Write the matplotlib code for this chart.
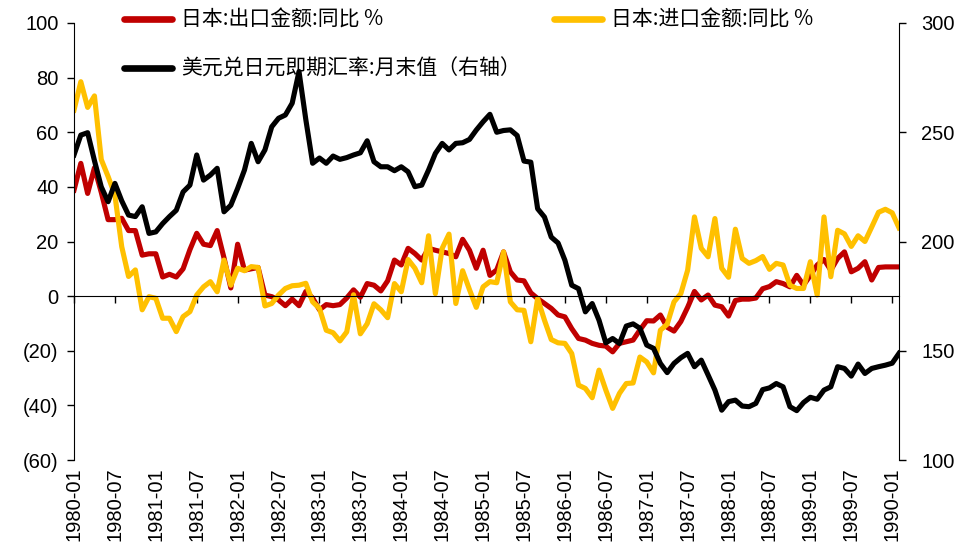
import numpy as np
import matplotlib
matplotlib.use("Agg")
import matplotlib.pyplot as plt
from matplotlib.lines import Line2D
from matplotlib.ticker import FuncFormatter

# 1980-01 ... 1990-02, monthly
tick_labels = [f"{y}-{m:02d}" for y in range(1980, 1991) for m in (1, 7)][:21]

# 日本:出口金额:同比 %
exports_yoy = [
    38.8, 48.6, 37.6, 47.0, 38.0, 28.0, 28.0, 28.5, 24.0, 24.0, 15.0, 15.5,
    15.5, 7.0, 8.0, 7.0, 10.0, 17.0, 23.0, 19.0, 18.5, 24.0, 14.0, 3.0,
    19.0, 9.5, 10.0, 10.5, 0.4, -0.2, -1.4, -3.5, -1.1, -3.5, 1.7, -0.7,
    -5.0, -3.1, -3.5, -3.1, -0.7, 2.3, -0.4, 4.6, 4.0, 1.9, 5.6, 13.2,
    11.4, 17.5, 15.6, 13.2, 17.5, 16.8, 16.2, 15.6, 14.4, 20.8, 16.8, 10.2,
    16.8, 7.6, 9.6, 16.2, 8.9, 5.9, 5.6, 1.2, -0.9, -2.7, -4.5, -6.9,
    -7.6, -11.9, -15.5, -16.1, -17.3, -18.0, -18.3, -20.4, -17.3, -16.7, -16.1, -12.4,
    -9.0, -9.1, -6.9, -11.4, -12.8, -9.3, -4.1, 1.7, -1.4, 0.4, -3.3, -3.9,
    -7.3, -1.6, -1.1, -1.1, -0.7, 2.7, 3.5, 5.3, 4.6, 3.4, 7.6, 4.0,
    7.6, 11.4, 13.4, 9.5, 13.8, 16.2, 8.9, 10.2, 12.6, 5.9, 10.5, 10.7,
    10.7, 10.7,
]

# 日本:进口金额:同比 %
imports_yoy = [
    68.1, 78.5, 69.1, 73.3, 50.0, 43.8, 37.0, 18.1, 7.2, 9.6, -5.0, -0.2,
    -0.8, -8.1, -8.1, -13.0, -7.5, -5.7, 0.4, 3.4, 5.3, 1.6, 13.2, 4.0,
    10.2, 9.3, 10.8, 10.5, -3.6, -2.7, 0.4, 2.8, 3.8, 4.0, 4.7, -2.1,
    -4.5, -12.5, -13.4, -16.4, -13.1, 0.5, -13.8, -10.1, -2.8, -5.0, -7.9, 4.6,
    1.6, 13.4, 10.2, 4.9, 22.1, 0.9, 17.5, 22.7, -2.7, 9.3, 2.4, -4.1,
    3.4, 5.3, 4.9, 16.2, -2.1, -5.0, -5.2, -16.7, -0.9, -8.8, -15.9, -17.1,
    -17.3, -21.0, -32.6, -33.8, -37.2, -27.1, -34.4, -41.1, -35.6, -32.0, -31.8, -22.3,
    -24.1, -28.1, -12.5, -10.3, -2.1, 0.9, 9.5, 29.0, 17.5, 14.4, 28.4, 10.2,
    6.9, 24.5, 13.8, 12.0, 13.0, 14.5, 9.8, 12.0, 11.4, 4.0, 2.8, 2.8,
    12.6, 0.4, 29.0, 7.1, 24.1, 22.8, 18.2, 22.1, 20.0, 25.3, 30.7, 31.8,
    30.5, 25.0,
]

# 美元兑日元即期汇率:月末值 (右轴)
usdjpy = [
    239.6, 248.7, 249.8, 237.0, 225.0, 218.2, 226.6, 218.6, 212.1, 211.4, 215.9, 203.7,
    204.4, 208.2, 211.4, 214.3, 222.7, 225.8, 239.6, 228.1, 230.4, 233.5, 213.6, 216.6,
    224.3, 232.7, 244.9, 236.5, 241.9, 252.5, 256.4, 257.9, 263.3, 277.8, 255.8, 235.8,
    238.2, 235.8, 239.1, 237.6, 238.4, 239.6, 240.6, 246.1, 236.5, 234.2, 234.2, 232.4,
    234.2, 231.9, 225.1, 225.8, 232.7, 240.3, 244.9, 241.9, 244.9, 245.2, 246.7, 251.0,
    254.8, 258.2, 250.0, 250.8, 251.1, 248.5, 236.8, 236.3, 215.0, 211.2, 202.0, 199.3,
    191.4, 180.0, 178.4, 167.8, 171.6, 164.0, 153.6, 155.6, 153.3, 161.3, 162.3, 160.3,
    152.6, 151.1, 144.2, 140.0, 144.2, 146.8, 148.8, 142.7, 145.7, 138.9, 132.0, 122.8,
    126.7, 127.4, 124.7, 124.4, 125.9, 132.2, 133.0, 135.0, 133.5, 124.4, 122.6, 126.3,
    128.7, 127.8, 132.0, 133.5, 142.7, 141.9, 138.4, 143.9, 139.6, 141.9, 142.7, 143.4,
    144.3, 148.8,
]

labels = ["日本:出口金额:同比 %", "日本:进口金额:同比 %", "美元兑日元即期汇率:月末值（右轴）"]
RED, YELLOW, BLACK = "#C00000", "#FFC000", "#000000"

plt.rcParams["font.family"] = ["Liberation Sans", "DejaVu Sans"]
W, H = 969, 542
fig = plt.figure(figsize=(W / 100, H / 100), dpi=100)
ax = fig.add_axes([74 / W, 1 - 460 / H, (899 - 74) / W, (460 - 23) / H])

x = np.arange(len(usdjpy))
ax.plot(x, exports_yoy, color=RED, lw=3.7)
ax.plot(x, imports_yoy, color=YELLOW, lw=3.7)

ax.set_xlim(0, len(usdjpy) - 1)
ax.set_ylim(-60, 100)
ax.set_yticks(range(-60, 101, 20))
ax.yaxis.set_major_formatter(FuncFormatter(lambda v, p: f"({abs(v):.0f})" if v < 0 else f"{v:.0f}"))
ax.tick_params(axis="y", direction="out", length=5, width=1, labelsize=14.5, pad=6)

# x axis line sits on zero, labels at the bottom
ax.spines["bottom"].set_position(("data", 0))
ax.spines["top"].set_visible(False)
ax.spines["right"].set_visible(False)
ax.set_xticks(range(0, 121, 6))
ax.tick_params(axis="x", direction="out", length=5, width=1, labelbottom=False)
sec = ax.secondary_xaxis("bottom")
sec.set_xticks(range(0, 121, 6), labels=tick_labels)
sec.tick_params(length=0, rotation=90, labelsize=14.5, pad=5)
sec.spines["bottom"].set_visible(False)

ax2 = ax.twinx()
ax2.plot(x, usdjpy, color=BLACK, lw=3.7)
ax2.set_ylim(100, 300)
ax2.set_yticks(range(100, 301, 50))
ax2.tick_params(axis="y", direction="out", length=5, width=1, labelsize=14.5, pad=11)
for s in ("top", "left", "bottom"):
    ax2.spines[s].set_visible(False)

# legend entries placed like the original
cjk = {"family": ["Noto Sans CJK SC", "DejaVu Sans"], "size": 15}
for color, lab, xp, yp in [(RED, labels[0], 124, 20), (YELLOW, labels[1], 554, 20), (BLACK, labels[2], 124, 69)]:
    h = Line2D([], [], color=color, lw=4.8, solid_capstyle="round")
    fig.legend(handles=[h], labels=[lab], loc="center left", bbox_to_anchor=(xp / W, 1 - yp / H),
               frameon=False, borderpad=0, borderaxespad=0, handlelength=2.3, handletextpad=0.45, prop=cjk)

fig.savefig("out.png", dpi=100)
